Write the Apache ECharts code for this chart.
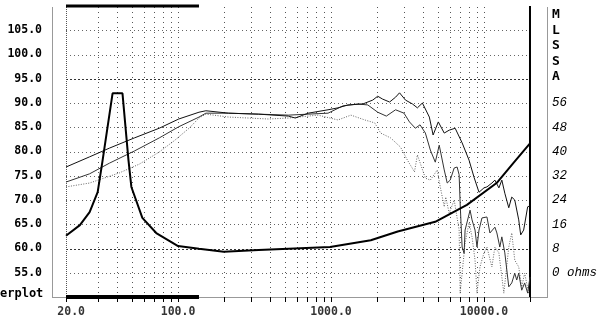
<!DOCTYPE html>
<html><head><meta charset="utf-8">
<script src="https://cdn.jsdelivr.net/npm/echarts@6/dist/echarts.min.js"></script>
<style>html,body{margin:0;padding:0;background:#fff}#c{width:600px;height:325px}</style>
</head><body><div id="c"></div>
<script>
// ---- data ----
const xMin = 18.5, xMax = 20000;
const freqTickValues = [20, 100, 1000, 10000];
const freqTickLabels = ['20.0', '100.0', '1000.0', '10000.0'];
const gridFreqs = [18.5, 30, 40, 50, 60, 70, 80, 90,
  100, 200, 300, 400, 500, 600, 700, 800, 900,
  1000, 2000, 3000, 4000, 5000, 6000, 7000, 8000, 9000,
  10000];
const tickFreqs = [18.5, 30, 40, 50, 60, 70, 80, 90,
  100, 200, 300, 400, 500, 600, 700, 800, 900,
  1000, 2000, 3000, 4000, 5000, 6000, 7000, 8000, 9000,
  10000, 20000];
const splLevels = [55, 60, 65, 70, 75, 80, 85, 90, 95, 100, 105];
const denseLevels = [60, 95];
const ohmLabels = [0, 8, 16, 24, 32, 40, 48, 56];
const gateRange = [18.5, 137];
const edgeFreq = 20000;

// SPL curve A (upper solid) [Hz, dB]
const splA = [[18.5,76.8],[26.4,78.9],[35.6,80.7],[51.8,82.8],[75.3,84.8],[101,86.7],[137,88.1],[152,88.4],
  [214,87.9],[336,87.7],[526,87.3],[584,86.9],[709,87.9],[956,88.6],[1110,89.0],[1290,89.6],[1614,89.8],
  [1874,90.6],[2020,91.4],[2176,90.8],[2416,90.2],[2643,91.2],[2806,92.1],[3069,90.6],[3409,89.8],[3672,89.0],
  [3958,90.0],[4395,87.1],[4650,83.4],[5030,86.1],[5500,83.8],[5924,84.4],[6481,84.8],[7197,81.8],[7992,78.2],
  [8612,74.7],[9280,71.6],[10000,72.5],[10460,72.7],[11270,73.5],[11790,74.1],[12520,72.5],[13090,74.1],
  [13690,71.4],[14530,68.4],[15200,70.6],[15900,70.0],[16880,65.9],[17390,62.8],[18180,63.8],[19310,68.6],[20000,68.8]];
// SPL curve B (second solid)
const splB = [[18.5,73.7],[26.4,75.4],[35.6,77.6],[51.8,80.1],[75.3,82.8],[101,85.1],[137,87.1],[152,87.9],
  [214,87.9],[336,87.7],[526,87.5],[709,87.7],[956,87.9],[1196,89.4],[1500,89.8],[1740,89.6],[2020,88.1],
  [2300,87.3],[2643,88.6],[3000,87.9],[3258,86.1],[3560,84.8],[3820,85.5],[4140,83.8],[4461,80.3],[4806,77.8],
  [5100,81.3],[5500,76.2],[5751,73.5],[6015,74.1],[6387,76.6],[6678,76.8],[6882,75.2],[6986,69.4],[7197,60.3],
  [7418,59.0],[7527,63.8],[8113,67.9],[8358,65.9],[8743,63.8],[9005,60.3],[9280,63.8],[9705,66.3],[10000,65.9],
  [10460,66.5],[10940,63.2],[11790,64.4],[12150,63.2],[12700,60.3],[13090,62.4],[13690,59.1],[14530,52.1],
  [15200,52.9],[15900,54.9],[16380,53.5],[16880,54.9],[17660,51.4],[18460,52.9],[19310,50.8],[20000,54.1]];
// SPL curve C (dotted)
const splC = [[18.5,72.7],[26.4,73.5],[41.4,75.6],[55.8,77.4],[75.3,79.9],[94.2,82.2],[118,84.8],[137,86.9],
  [152,87.7],[214,87.1],[289,86.9],[390,86.7],[526,86.9],[611,87.1],[823,87.5],[1110,86.5],[1349,87.5],
  [1663,86.5],[1931,85.9],[2112,83.8],[2453,82.8],[2848,80.9],[3162,78.2],[3513,75.8],[3672,79.3],[4140,74.5],
  [4461,74.1],[4953,76.2],[5180,72.7],[5500,68.6],[5625,70.6],[5924,67.3],[6387,70.0],[6882,63.8],[6986,50.8],
  [7197,54.9],[7527,61.1],[7992,65.3],[8358,62.4],[8743,57.6],[9005,50.8],[9419,56.2],[10000,59.1],[10460,60.3],
  [11270,56.2],[11790,60.3],[12520,59.1],[13490,50.8],[14530,60.3],[15200,63.2],[15900,57.6],[16880,56.2],
  [17660,52.1],[18460,54.9],[19600,50.8]];
// Impedance [Hz, ohms]
const impedance = [[18.5,12.2],[22.8,15.7],[26.4,20.0],[29.8,26.6],[32.1,37.1],[37.3,59.2],[43.3,59.2],
  [47.4,37.1],[49.5,28.3],[58.4,18.1],[72,13.1],[100,8.8],[137,7.9],[199,6.9],[336,7.5],[985,8.5],
  [1820,10.7],[2730,13.6],[4800,16.8],[7740,22.4],[12100,29.6],[15800,36.6],[20000,42.7]];

// ---- chart ----
const chart = echarts.init(document.getElementById('c'), null, {renderer: 'canvas'});
const labFont = {fontFamily: '"DejaVu Sans Mono", monospace', fontWeight: 'bold', fontSize: 11.5, color: '#000'};

const option = {
  animation: false,
  backgroundColor: '#fff',
  grid: {left: 66, right: 67, top: 6, bottom: 28},
  xAxis: {type: 'log', logBase: 10, min: xMin, max: xMax,
    axisLine: {show: false}, axisTick: {show: false}, axisLabel: {show: false}, splitLine: {show: false}},
  yAxis: [
    {type: 'value', min: 50, max: 110, interval: 5,
      axisLine: {show: false}, axisTick: {show: false}, splitLine: {show: false},
      axisLabel: Object.assign({margin: 24, showMinLabel: false, showMaxLabel: false,
        formatter: v => v.toFixed(1)}, labFont)},
    {type: 'value', min: -8, max: 88, interval: 8, position: 'right',
      axisLine: {show: false}, axisTick: {show: false}, splitLine: {show: false},
      axisLabel: {margin: 22, fontFamily: '"Liberation Mono", monospace', fontStyle: 'italic', fontSize: 12.5, color: '#000',
        formatter: v => ohmLabels.indexOf(v) < 0 ? '' : (v === 0 ? '0 ohms' : String(v))}}
  ],
  graphic: [
    {type: 'line', shape: {x1: 52.5, y1: 7, x2: 52.5, y2: 297.5}, style: {stroke: '#999', lineWidth: 1}},
    {type: 'line', shape: {x1: 547.5, y1: 7, x2: 547.5, y2: 297.5}, style: {stroke: '#999', lineWidth: 1}},
    {type: 'line', shape: {x1: 52, y1: 297.5, x2: 548, y2: 297.5}, style: {stroke: '#999', lineWidth: 1}},
    {type: 'text', left: 0, top: 288, style: {text: 'erplot', font: 'bold 12px "DejaVu Sans Mono", monospace', fill: '#000'}},
    {type: 'text', left: 552, top: 7, style: {text: 'M\nL\nS\nS\nA', font: 'bold 13px "DejaVu Sans Mono", monospace', lineHeight: 15.5, fill: '#000'}}
  ],
  series: [
    {type: 'custom', silent: true, clip: false, data: splLevels.map(v => [v]), encode: {y: 0},
      renderItem: (p, api) => {
        const L = api.value(0);
        const a = api.coord([xMin, L]), b = api.coord([xMax, L]);
        const dense = denseLevels.indexOf(L) >= 0;
        return {type: 'line', shape: {x1: a[0], y1: Math.round(a[1]) + 0.5, x2: b[0], y2: Math.round(b[1]) + 0.5},
          style: {stroke: dense ? '#333' : '#666', lineWidth: 1, lineDash: dense ? [2, 2] : [1, 3]}};
      }},
    {type: 'custom', silent: true, clip: false, data: gridFreqs.map(v => [v]), encode: {x: 0},
      renderItem: (p, api) => {
        const f = api.value(0);
        const a = api.coord([f, 110]), b = api.coord([f, 50]);
        const x = Math.round(a[0]) + 0.5;
        return {type: 'line', shape: {x1: x, y1: a[1] + 1, x2: x, y2: b[1]},
          style: {stroke: '#555', lineWidth: 1, lineDash: f === xMin ? [1, 1] : [1, 4]}};
      }},
    {type: 'custom', silent: true, clip: false, data: tickFreqs.map(v => [v]), encode: {x: 0},
      renderItem: (p, api) => {
        const f = api.value(0);
        const b = api.coord([f, 50]);
        const x = Math.round(b[0]) + 0.5;
        return {type: 'line', shape: {x1: x, y1: b[1], x2: x, y2: b[1] + 5}, style: {stroke: '#000', lineWidth: 1}};
      }},
    {type: 'scatter', silent: true, symbolSize: 0, data: freqTickValues.map(v => [v, 50]),
      label: Object.assign({show: true, position: 'bottom', distance: 9,
        formatter: p => freqTickLabels[p.dataIndex]}, labFont)},
    {type: 'line', silent: true, clip: false, symbol: 'none', data: [[gateRange[0], 110], [gateRange[1], 110]],
      lineStyle: {color: '#000', width: 3}},
    {type: 'line', silent: true, clip: false, symbol: 'none', data: [[gateRange[0], 50], [gateRange[1], 50]],
      lineStyle: {color: '#000', width: 4}},
    {type: 'line', silent: true, clip: false, symbol: 'none', data: [[edgeFreq, 50], [edgeFreq, 110]],
      lineStyle: {color: '#000', width: 2}},
    {name: 'C', type: 'line', symbol: 'none', data: splC, lineStyle: {color: '#666', width: 1, type: [1, 1.5]}},
    {name: 'B', type: 'line', symbol: 'none', data: splB, lineStyle: {color: '#333', width: 1}},
    {name: 'A', type: 'line', symbol: 'none', data: splA, lineStyle: {color: '#111', width: 1}},
    {name: 'Z', type: 'line', symbol: 'none', yAxisIndex: 1, data: impedance, lineStyle: {color: '#000', width: 2}}
  ]
};
chart.setOption(option);
</script></body></html>
